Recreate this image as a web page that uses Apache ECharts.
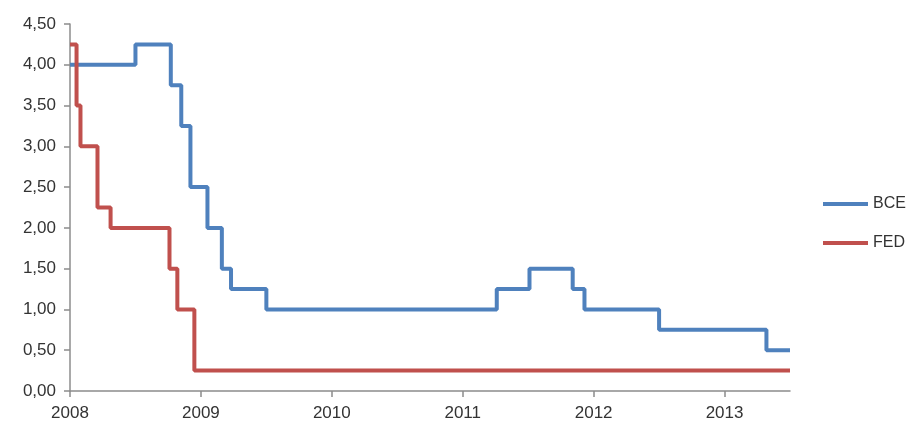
<!DOCTYPE html>
<html>
<head>
<meta charset="utf-8">
<script src="https://cdn.jsdelivr.net/npm/echarts@6/dist/echarts.min.js"></script>
<style>
  html, body { margin: 0; padding: 0; background: #fff; }
  #chart { width: 907px; height: 429px; }
</style>
</head>
<body>
<div id="chart"></div>
<script>
// years as decimal fractions, values = policy rate (%)
const yearTicks = [2008, 2009, 2010, 2011, 2012, 2013];

const bceX = [2008.0, 2008.50, 2008.77, 2008.85, 2008.92, 2009.05, 2009.16, 2009.23, 2009.50, 2011.26, 2011.51, 2011.84, 2011.93, 2012.50, 2013.32, 2013.5];
const bceY = [4.00, 4.25, 3.75, 3.25, 2.50, 2.00, 1.50, 1.25, 1.00, 1.25, 1.50, 1.25, 1.00, 0.75, 0.50, 0.50];

const fedX = [2008.0, 2008.05, 2008.08, 2008.21, 2008.31, 2008.76, 2008.82, 2008.95, 2013.5];
const fedY = [4.25, 3.50, 3.00, 2.25, 2.00, 1.50, 1.00, 0.25, 0.25];

const BLUE = '#4f81bd';
const RED = '#c0504d';

const chart = echarts.init(document.getElementById('chart'));

const pairs = (xs, ys) => xs.map((x, i) => [x, ys[i]]);

const option = {
  backgroundColor: '#fff',
  animation: false,
  grid: { left: 70, right: 117, top: 24, bottom: 38 },
  legend: {
    orient: 'vertical',
    left: 823,
    top: 196,
    padding: 0,
    itemWidth: 45,
    itemHeight: 4,
    itemGap: 23,
    icon: 'rect',
    textStyle: { fontFamily: 'Liberation Sans', fontSize: 16, color: '#333' },
    data: ['BCE', 'FED']
  },
  xAxis: {
    type: 'value',
    min: 2008,
    max: 2013.5,
    interval: 1,
    splitLine: { show: false },
    axisLine: { lineStyle: { color: '#8c8c8c', width: 1.5 } },
    axisTick: { show: true, length: 6, customValues: yearTicks, lineStyle: { color: '#8c8c8c', width: 1.5 } },
    axisLabel: {
      customValues: yearTicks,
      margin: 14,
      fontFamily: 'Liberation Sans',
      fontSize: 17,
      color: '#333',
      formatter: v => String(v)
    }
  },
  yAxis: {
    type: 'value',
    min: 0,
    max: 4.5,
    interval: 0.5,
    splitLine: { show: false },
    axisLine: { show: true, lineStyle: { color: '#8c8c8c', width: 1.5 } },
    axisTick: { show: true, length: 6, lineStyle: { color: '#8c8c8c', width: 1.5 } },
    axisLabel: {
      margin: 14,
      fontFamily: 'Liberation Sans',
      fontSize: 17,
      color: '#333',
      formatter: v => v.toFixed(2).replace('.', ',')
    }
  },
  series: [
    {
      name: 'BCE',
      type: 'line',
      step: 'end',
      showSymbol: false,
      data: pairs(bceX, bceY),
      itemStyle: { color: BLUE },
      lineStyle: { color: BLUE, width: 4 }
    },
    {
      name: 'FED',
      type: 'line',
      step: 'end',
      showSymbol: false,
      data: pairs(fedX, fedY),
      itemStyle: { color: RED },
      lineStyle: { color: RED, width: 4 }
    }
  ]
};

chart.setOption(option);
</script>
</body>
</html>
